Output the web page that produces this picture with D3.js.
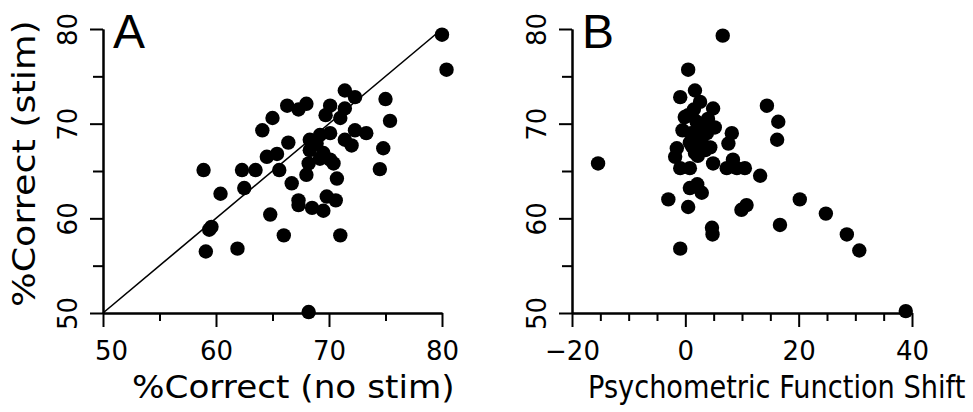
<!DOCTYPE html>
<html lang="en">
<head>
<meta charset="UTF-8">
<title>Stimulation effects</title>
<style>
  body { margin: 0; background: #fff; }
  text { font-family: "DejaVu Sans", sans-serif; fill: #000; }
  .domain, .tick line { stroke: #000; stroke-width: 2; }
</style>
</head>
<body>
<script src="https://d3js.org/d3.v7.min.js"></script>
<script>
// panel A: %correct without vs with microstimulation
const noStimA = [80.0, 80.4, 71.4, 72.3, 75.0, 66.3, 67.3, 68.0, 70.1, 71.4, 69.7, 71.0, 65.0, 75.4, 64.1, 72.3, 73.3, 69.2, 70.1, 68.3,
  66.4, 68.9, 71.4, 72.0, 74.8, 64.5, 65.4, 68.3, 69.5, 69.2, 70.1, 68.2, 70.4, 58.9, 62.3, 63.5, 65.6, 68.0, 70.7, 60.4,
  62.5, 66.7, 67.3, 67.3, 69.8, 70.6, 68.5, 69.5, 64.8, 59.6, 59.4, 66.0, 71.0, 59.1, 61.9, 68.2, 74.5]
const stimA = [79.4, 75.7, 73.5, 72.8, 72.6, 71.9, 71.5, 72.1, 71.9, 71.6, 70.9, 70.6, 70.6, 70.3, 69.3, 69.3, 69.0, 68.8, 69.0, 68.3,
  68.0, 67.9, 68.3, 67.7, 67.4, 66.5, 66.8, 67.2, 66.9, 66.3, 66.2, 65.8, 65.8, 65.1, 65.1, 65.1, 65.1, 64.6, 64.2, 62.6,
  63.2, 63.7, 61.9, 61.4, 62.3, 61.9, 61.1, 60.8, 60.4, 59.1, 58.8, 58.2, 58.2, 56.5, 56.8, 50.1, 65.2]

// panel B: psychometric function shift vs %correct with stim
const shiftB = [6.6, -15.4, 0.5, -0.9, 1.7, 2.6, 4.9, -0.1, 14.4, 16.4, 16.2, -1.5, -1.8, -0.9, 0.8, 4.9, 7.3, 9.1, 10.5, 8.2,
  7.6, 8.4, 13.2, -3.0, 0.5, 0.8, 2.1, 2.9, 9.9, 10.8, 20.2, 24.8, 16.7, 4.7, 4.8, -0.9, 28.5, 30.7, 38.9, 2.1,
  3.8, 2.9, 1.7, 4.4, 0.5, 1.5, 2.0, 3.0, 1.0, 2.5, 0.8, 3.5, 5.2, 2.2, -0.5, 1.2, 4.0]
const stimB = [79.3, 65.8, 75.7, 72.8, 73.5, 72.3, 71.6, 70.7, 71.9, 70.2, 68.3, 67.4, 66.5, 65.3, 65.3, 65.8, 65.3, 65.3, 65.3, 69.0,
  67.9, 66.2, 64.5, 62.0, 61.2, 63.2, 63.6, 62.7, 60.9, 61.4, 62.0, 60.5, 59.3, 59.0, 58.3, 56.8, 58.3, 56.6, 50.2, 69.3,
  69.0, 68.0, 66.9, 67.5, 70.9, 71.5, 70.2, 69.8, 69.0, 68.5, 68.0, 67.2, 69.6, 66.6, 69.3, 67.6, 70.5]

const pctTicks = [50, 60, 70, 80]
const pctMinor = [55, 65, 75]
const shiftTicks = [-20, 0, 20, 40]
const shiftMinor = [-15, -10, -5, 5, 10, 15, 25, 30, 35]

const W = 973, H = 412
const svg = d3.select('body').append('svg')
  .attr('width', W)
  .attr('height', H)

const y = d3.scaleLinear().domain([50, 80]).range([313, 29])
const xA = d3.scaleLinear().domain([50, 80]).range([103, 442])
const xB = d3.scaleLinear().domain([-20, 40]).range([572, 912])

function minus(d) { return d < 0 ? '\u2212' + Math.abs(d) : String(d) }

function panel(x, xs, ys, majorX, minorX, fmt, letter) {
  const g = svg.append('g')
  const x0 = x.range()[0]

  // minor ticks first, then labelled majors on top
  g.append('g').attr('transform', `translate(0,${y.range()[0]})`)
    .call(d3.axisBottom(x).tickValues(minorX).tickSize(8).tickSizeOuter(0).tickFormat(''))
  const ax = g.append('g').attr('transform', `translate(0,${y.range()[0]})`)
    .call(d3.axisBottom(x).tickValues(majorX).tickSize(14).tickSizeOuter(0).tickFormat(fmt))
  ax.selectAll('text').attr('y', 47).attr('dy', 0).style('font-size', '26px')

  g.append('g').attr('transform', `translate(${x0},0)`)
    .call(d3.axisLeft(y).tickValues(pctMinor).tickSize(10).tickSizeOuter(0).tickFormat(''))
  const ay = g.append('g').attr('transform', `translate(${x0},0)`)
    .call(d3.axisLeft(y).tickValues(pctTicks).tickSize(13).tickSizeOuter(0))
  ay.selectAll('text')
    .attr('transform', 'rotate(-90)')
    .attr('x', 0).attr('y', -26).attr('dy', 0)
    .attr('text-anchor', 'middle')
    .style('font-size', '26px')

  g.selectAll('.domain').attr('fill', 'none')

  g.append('g').selectAll('circle')
    .data(xs.map((v, i) => [v, ys[i]]))
    .join('circle')
      .attr('cx', d => x(d[0]))
      .attr('cy', d => y(d[1]))
      .attr('r', 7.2)
      .attr('fill', '#000')

  g.append('text')
    .attr('x', x0 + 10).attr('y', 48)
    .style('font-family', '"Liberation Sans", Arial, sans-serif')
    .style('font-size', '48px')
    .text(letter)
  return g
}

const gA = panel(xA, noStimA, stimA, pctTicks, pctMinor, d3.format('d'), 'A')
// the 50 label sits a little right of its tick
gA.selectAll('.tick text').filter(function() { return this.textContent === '50' && !this.getAttribute('transform') })
  .attr('x', 8)

// identity line
gA.append('line')
  .attr('x1', xA(50)).attr('y1', y(50))
  .attr('x2', xA(80)).attr('y2', y(80))
  .attr('stroke', '#000').attr('stroke-width', 1.6)

panel(xB, shiftB, stimB, shiftTicks, shiftMinor, minus, 'B')

// axis titles, stretched to the wide lettering
svg.append('text')
  .attr('transform', 'translate(132,398) scale(1.07,1)')
  .style('font-size', '32px')
  .text('%Correct (no stim)')

svg.append('text')
  .attr('transform', 'translate(588,398) scale(0.85,1)')
  .style('font-size', '32px')
  .text('Psychometric Function Shift')

svg.append('text')
  .attr('transform', 'translate(35,307) rotate(-90) scale(1.14,1)')
  .style('font-size', '32px')
  .text('%Correct (stim)')
</script>
</body>
</html>
